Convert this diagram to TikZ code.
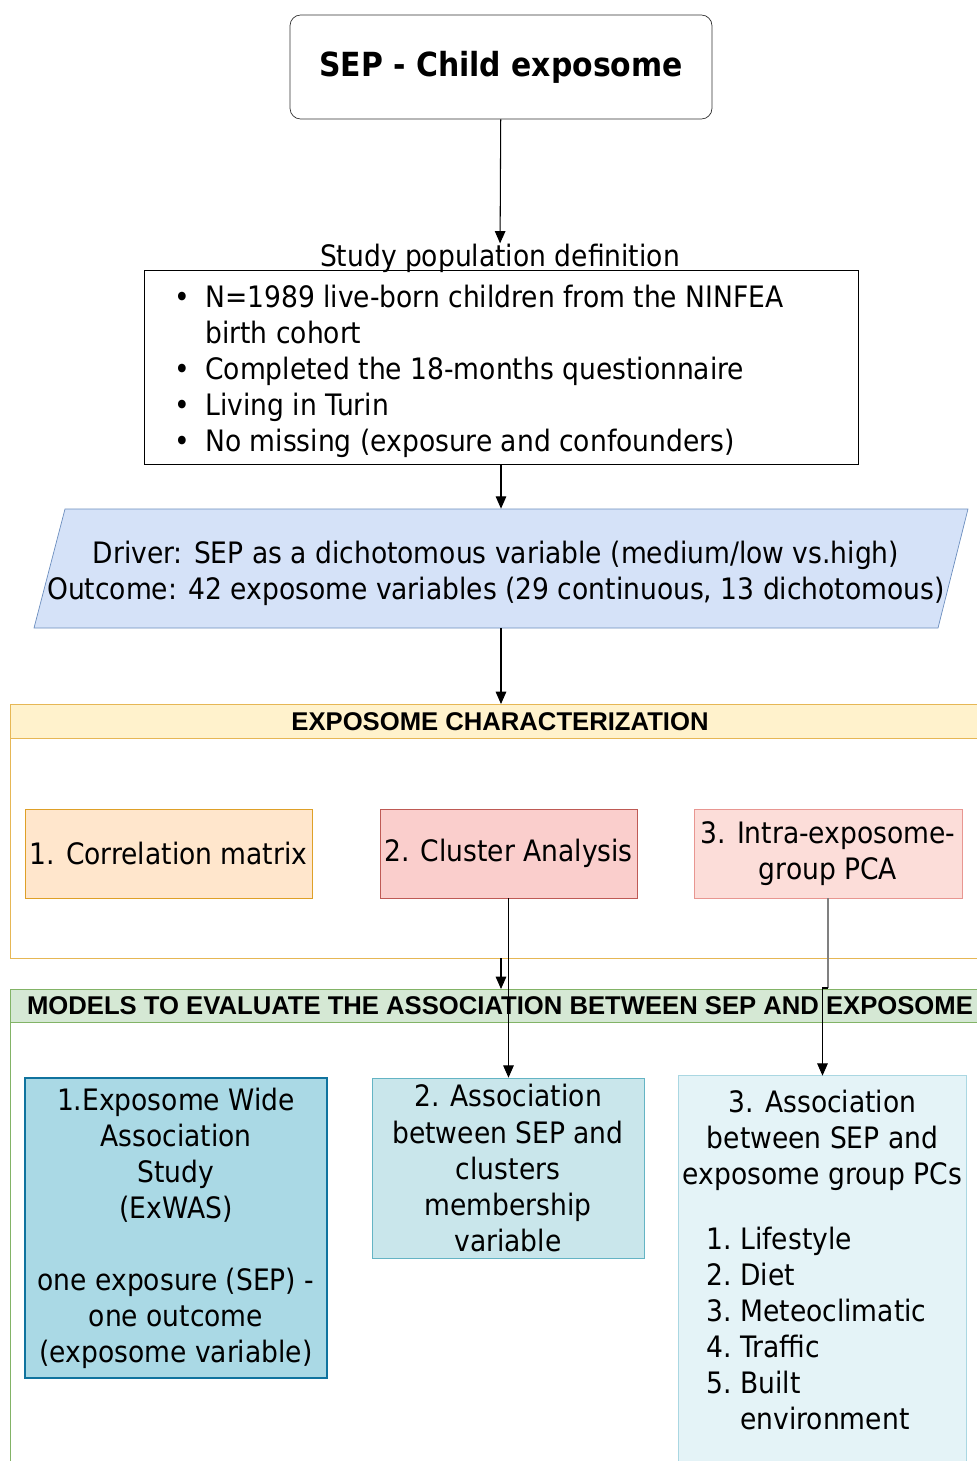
\documentclass[tikz,border=0pt]{standalone}
\usepackage{fontspec}
\setmainfont{DejaVu Sans Condensed}
\newfontfamily\headfont{Liberation Sans}
\usepackage{tikz}
\usetikzlibrary{shapes.geometric, arrows, arrows.meta, positioning, calc}
\definecolor{drvfill}{RGB}{213,226,248}
\definecolor{drvline}{RGB}{108,142,191}
\definecolor{expfill}{RGB}{255,242,204}
\definecolor{expline}{RGB}{230,183,85}
\definecolor{corrfill}{RGB}{255,230,204}
\definecolor{corrline}{RGB}{222,160,40}
\definecolor{clustfill}{RGB}{250,206,204}
\definecolor{clustline}{RGB}{190,90,85}
\definecolor{pcafill}{RGB}{252,221,217}
\definecolor{pcaline}{RGB}{232,150,145}
\definecolor{modfill}{RGB}{213,232,212}
\definecolor{modline}{RGB}{130,179,102}
\definecolor{exwasfill}{RGB}{170,217,229}
\definecolor{exwasline}{RGB}{16,115,158}
\definecolor{asfill}{RGB}{201,230,235}
\definecolor{asline}{RGB}{100,180,196}
\definecolor{pcsfill}{RGB}{228,243,247}
\definecolor{pcsline}{RGB}{170,215,226}

\begin{document}
\begin{tikzpicture}[x=0.02cm, y=-0.02cm,
    txt/.style={font=\fontsize{16.8}{20.5}\selectfont, align=center, inner sep=0pt},
    titlebox/.style={draw=black!80, rounded corners=6pt, fill=white, minimum width=8.44cm, minimum height=2.08cm, font=\bfseries\fontsize{18.9}{22}\selectfont},
    popbox/.style={draw, minimum width=14.28cm, minimum height=3.88cm},
    head/.style={font=\headfont\bfseries\fontsize{14.6}{16}\selectfont, inner sep=0pt},
    charbox/.style={txt, minimum height=1.78cm},
    arr/.style={-{Triangle[length=7pt,width=6pt]}, line width=0.6pt}]

\useasboundingbox (0,0) rectangle (977,1461);

% top
\node[titlebox] (sep) at (501,67) {SEP - Child exposome};
\node[popbox] (pop) at (501,367) {};
\node[txt] (poplabel) at (500,258) {Study population definition};
\node[txt, anchor=west] (poplist) at (174,372) {%
  \begin{tabular}{@{}l@{}l@{}}
  \makebox[0.62cm][l]{\textbullet} & N=1989 live-born children from the NINFEA\\
  & birth cohort\\
  \textbullet & Completed the 18-months questionnaire\\
  \textbullet & Living in Turin\\
  \textbullet & No missing (exposure and confounders)
  \end{tabular}};

% driver / outcome
\filldraw[fill=drvfill, draw=drvline] (65,509) -- (968,509) -- (938,628) -- (34,628) -- cycle;
\node[txt, minimum width=18.68cm, minimum height=2.38cm] (drv) at (501,568.5) {};
\node[txt] (drvtext) at (496,573)
  {Driver: SEP as a dichotomous variable (medium/low vs.high)\\Outcome: 42 exposome variables (29 continuous, 13 dichotomous)};

% exposome characterization
\fill[expfill] (10,704) rectangle (977,738);
\draw[expline] (977,704) -- (10,704) -- (10,958) -- (977,958);
\draw[expline] (10,738) -- (977,738);
\node[head] (exptitle) at (500,722) {EXPOSOME CHARACTERIZATION};
\coordinate (exptop) at (501,704);
\coordinate (expbot) at (501,958);

\node[charbox, draw=corrline, fill=corrfill, minimum width=5.74cm] (corr) at (168.5,853.5) {1. Correlation matrix};
\node[charbox, draw=clustline, fill=clustfill, minimum width=5.14cm] (clust) at (508.5,853.5) {2. Cluster Analysis};
\node[charbox, draw=pcaline, fill=pcafill, minimum width=5.36cm] (pca) at (828,853.5) {3. Intra-exposome-\\group PCA};

% models
\fill[modfill] (10,989) rectangle (977,1022);
\draw[modline] (977,989) -- (10,989) -- (10,1461);
\draw[modline] (10,1022) -- (977,1022);
\node[head] (modtitle) at (500,1006) {MODELS TO EVALUATE THE ASSOCIATION BETWEEN SEP AND EXPOSOME};
\coordinate (modtop) at (501,989);

\node[txt, draw=exwasline, fill=exwasfill, line width=0.8pt, minimum width=6.04cm, minimum height=6cm] (exwas) at (176,1228)
  {1.Exposome Wide\\Association\\Study\\(ExWAS)\\[20.5pt]one exposure (SEP) -\\one outcome\\(exposome variable)};
\node[txt, draw=asline, fill=asfill, minimum width=5.44cm, minimum height=3.6cm] (assoc2) at (508,1168)
  {2. Association\\between SEP and\\clusters\\membership\\variable};

\node[fill=pcsfill, inner sep=0pt, minimum width=5.74cm, minimum height=7.7cm] (pcs) at (822.5,1268.5) {};
\draw[pcsline] (pcs.south west) -- (pcs.north west) -- (pcs.north east) -- (pcs.south east);
\node[txt] (pcstitle) at (822.5,1140) {3. Association\\between SEP and\\exposome group PCs};
\node[txt, anchor=west] (pcslist) at (706,1332) {%
  \begin{tabular}{@{}l@{}l@{}}
  \makebox[0.68cm][l]{1.} & Lifestyle\\
  2. & Diet\\
  3. & Meteoclimatic\\
  4. & Traffic\\
  5. & Built\\
  & environment
  \end{tabular}};

% connectors
\coordinate (pcabend) at (828,988);
\draw[arr] (sep) -- (poplabel);
\draw[arr] (pop) -- (drv);
\draw[arr] (drv) -- (exptop);
\draw[arr] (expbot) -- (modtop);
\draw[arr] (clust.south) -- (clust.south |- assoc2.north);
\draw[gray, line width=0.6pt] (pca.south) -- (pcabend);
\draw[arr] (pcabend) -| (pcs.north);
\end{tikzpicture}
\end{document}
